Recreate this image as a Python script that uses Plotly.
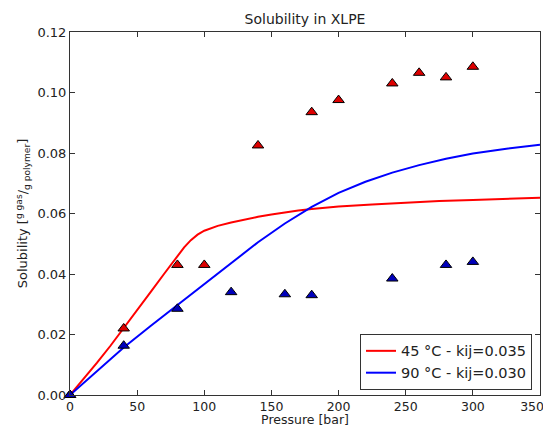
import plotly.graph_objects as go

# Measured data (triangles)
p_red = [0, 40, 80, 100, 140, 180, 200, 240, 260, 280, 300]
s_red = [0.0, 0.022, 0.043, 0.043, 0.0825, 0.0935, 0.0975, 0.103, 0.1065, 0.105, 0.1085]
p_blue = [0, 40, 80, 120, 160, 180, 240, 280, 300]
s_blue = [0.0, 0.0163, 0.0285, 0.034, 0.0333, 0.033, 0.0385, 0.043, 0.044]

# Model curves
curve_p_red = [0, 10, 20, 30, 40, 50, 60, 70, 80, 85, 90, 95, 100, 105, 110, 120, 130, 140,
               150, 160, 170, 180, 190, 200, 225, 250, 275, 300, 325, 350]
curve_s_red = [0.0, 0.0052, 0.0106, 0.0162, 0.0220, 0.0280, 0.0340, 0.0400, 0.0458, 0.0488,
               0.0512, 0.0530, 0.0543, 0.0552, 0.0559, 0.0570, 0.0580, 0.0589, 0.0597, 0.0604,
               0.0610, 0.0615, 0.0619, 0.0623, 0.0630, 0.0636, 0.0641, 0.0645, 0.0649, 0.0652]
curve_p_blue = [0, 20, 40, 60, 80, 100, 120, 140, 160, 180, 200, 220, 240, 260, 280, 300,
                325, 350]
curve_s_blue = [0.0, 0.0078, 0.0157, 0.0228, 0.0297, 0.0367, 0.0437, 0.0505, 0.0567, 0.0622,
                0.0668, 0.0705, 0.0735, 0.0760, 0.0781, 0.0798, 0.0814, 0.0827]

labels = ["45 °C - kij=0.035", "90 °C - kij=0.030"]
x_ticks = [0, 50, 100, 150, 200, 250, 300, 350]
x_tick_text = ["0", "50", "100", "150", "200", "250", "300", "350&nbsp;&nbsp;&nbsp;&nbsp;"]
y_ticks = [0.0, 0.02, 0.04, 0.06, 0.08, 0.10, 0.12]

fig = go.Figure()
fig.add_trace(go.Scatter(x=curve_p_red, y=curve_s_red, mode="lines", name=labels[0],
                         line=dict(color="#ff0000", width=2)))
fig.add_trace(go.Scatter(x=curve_p_blue, y=curve_s_blue, mode="lines", name=labels[1],
                         line=dict(color="#0000ff", width=2)))
fig.add_trace(go.Scatter(x=p_red, y=s_red, mode="markers", showlegend=False,
                         marker=dict(symbol="triangle-up", size=10, color="#dd0000",
                                     line=dict(color="#000000", width=1)), cliponaxis=False))
fig.add_trace(go.Scatter(x=p_blue, y=s_blue, mode="markers", showlegend=False,
                         marker=dict(symbol="triangle-up", size=10, color="#0000bb",
                                     line=dict(color="#000000", width=1)), cliponaxis=False))

axis_common = dict(showline=True, linecolor="#333333", linewidth=1, mirror="ticks",
                   ticks="inside", ticklen=5, tickcolor="#333333", showgrid=False,
                   zeroline=False, automargin=False)

# the page body has an 8px margin, so the figure is sized/offset to compensate
W, H = 543, 419
fig.update_layout(
    width=W, height=H,
    margin=dict(l=62, r=11, t=24, b=32),
    paper_bgcolor="white", plot_bgcolor="white",
    font=dict(family="DejaVu Sans", size=13, color="#222222"),
    title=dict(text="Solubility in XLPE", x=(62 + 470 / 2) / W, xanchor="center",
               y=1 - 11 / H, yanchor="middle", font=dict(size=14, color="#222222")),
    xaxis=dict(range=[0, 350], tickvals=x_ticks, ticktext=x_tick_text,
               ticklabelstandoff=0, ticklabeloverflow="allow",
               tickfont=dict(family="DejaVu Sans", size=12.5, color="#222222"),
               title=dict(text="Pressure [bar]", standoff=2, font=dict(size=12.5)), **axis_common),
    yaxis=dict(range=[0, 0.12], tickvals=y_ticks, ticktext=[f"{v:.2f}" for v in y_ticks],
               tickfont=dict(family="DejaVu Sans", size=13, color="#222222"),
               title=dict(text="Solubility [<sup>g gas</sup>/<sub>g polymer</sub>]", standoff=6,
                          font=dict(size=13)), **axis_common),
    legend=dict(x=0.983, y=0.014, xanchor="right", yanchor="bottom",
                bgcolor="white", bordercolor="#333333", borderwidth=1,
                font=dict(size=14.5), tracegroupgap=0),
)

fig.write_html("out.html")
